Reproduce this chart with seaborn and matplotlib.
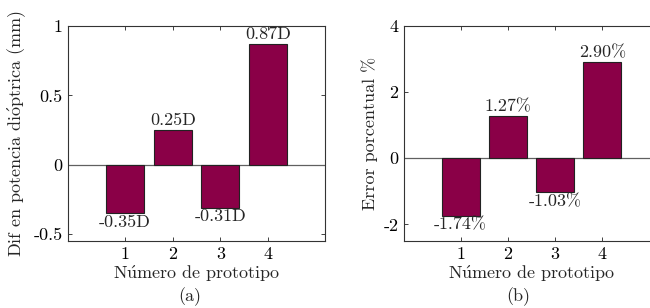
import matplotlib
matplotlib.use("Agg")
import matplotlib.pyplot as plt
import seaborn as sns
import pandas as pd

prototipos = [1, 2, 3, 4]
dif_potencia = [-0.35, 0.25, -0.31, 0.87]
error_pct = [-1.74, 1.27, -1.03, 2.90]
labels_a = ["-0.35D", "0.25D", "-0.31D", "0.87D"]
labels_b = ["-1.74%", "1.27%", "-1.03%", "2.90%"]
yticks_a = [-0.5, 0, 0.5, 1]
yticklabels_a = ["-0.5", "0", "0.5", "1"]
yticks_b = [-2, 0, 2, 4]
yticklabels_b = ["-2", "0", "2", "4"]

sns.set_theme(style="white")
plt.rcParams['font.family'] = ['cmr10', 'DejaVu Serif']
plt.rcParams['mathtext.fontset'] = 'cm'
plt.rcParams['axes.unicode_minus'] = False

BAR = "#8a0047"
FS = 13

XLABEL = r"N$\acute{\mathrm{u}}$mero de prototipo"
YLABEL_A = r"Dif en potencia di$\acute{\mathrm{o}}$ptrica (mm)"
YLABEL_B = "Error porcentual %"

fig = plt.figure(figsize=(6.5, 3.08), dpi=100)
ax1 = fig.add_axes([68/650, 1-241/308, (325-68)/650, (241-26)/308])
ax2 = fig.add_axes([404/650, 1-241/308, (659-404)/650, (241-26)/308])

def panel(ax, vals, labs, yt, ytl, ylim, ylabel):
    df = pd.DataFrame({"p": prototipos, "v": vals})
    sns.barplot(data=df, x="p", y="v", native_scale=True, width=0.8,
                color=BAR, saturation=1, edgecolor="#222222", linewidth=0.8, ax=ax, zorder=3)
    ax.axhline(0, color="#606060", lw=0.9, zorder=2)
    ax.set_xlim(-0.2, 5.2)
    ax.set_ylim(*ylim)
    ax.set_xticks(prototipos)
    ax.set_xticklabels([str(p) for p in prototipos], fontsize=FS)
    ax.set_yticks(yt)
    ax.set_yticklabels(ytl, fontsize=FS)
    ax.set_xlabel(XLABEL, fontsize=FS, labelpad=1)
    ax.set_ylabel(ylabel, fontsize=FS, labelpad=4)
    ax.tick_params(direction="in", length=3, width=0.6, top=True, right=True,
                   bottom=True, left=True, pad=4, colors="#222222", labelcolor="black")
    for s in ax.spines.values():
        s.set_color("#333333")
        s.set_linewidth(0.8)
    for x, v, t in zip(prototipos, vals, labs):
        if v >= 0:
            ax.annotate(t, (x, v), xytext=(0, 1.5), textcoords="offset points",
                        ha="center", va="bottom", fontsize=FS)
        else:
            ax.annotate(t, (x, v), xytext=(0, -1), textcoords="offset points",
                        ha="center", va="top", fontsize=FS)

panel(ax1, dif_potencia, labels_a, yticks_a, yticklabels_a, (-0.55, 1.0), YLABEL_A)
panel(ax2, error_pct, labels_b, yticks_b, yticklabels_b, (-2.5, 4.0), YLABEL_B)

fig.text(190/650, 1-297/308, "(a)", ha="center", va="center", fontsize=FS)
fig.text(518/650, 1-297/308, "(b)", ha="center", va="center", fontsize=FS)

fig.savefig("out.png", dpi=100)
